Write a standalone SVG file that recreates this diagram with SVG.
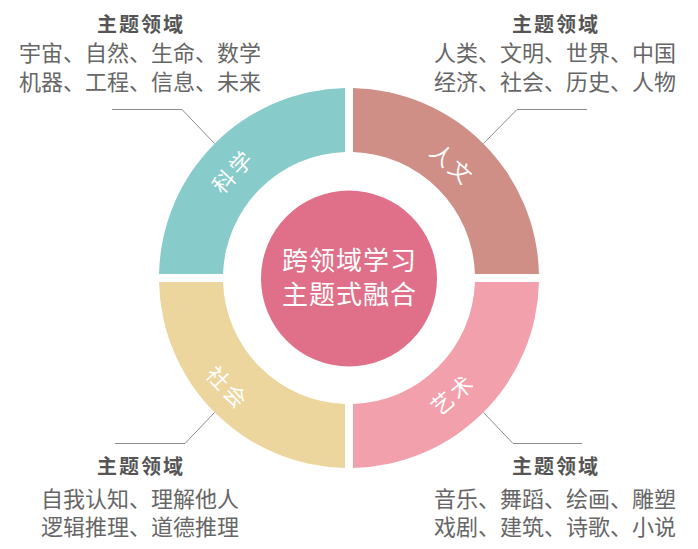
<svg xmlns="http://www.w3.org/2000/svg" width="698" height="549" viewBox="0 0 698 549">
<style>
.title{font-family:"Noto Sans CJK SC","Noto Sans",sans-serif;font-size:20px;font-weight:bold;fill:#555555;text-anchor:middle;letter-spacing:2px}
.body{font-family:"Noto Sans CJK SC","Noto Sans",sans-serif;font-size:22px;fill:#666666;text-anchor:middle}
.seg{font-family:"Noto Sans CJK SC","Noto Sans",sans-serif;font-size:22px;fill:#ffffff;text-anchor:middle;letter-spacing:3px}
.center{font-family:"Noto Sans CJK SC","Noto Sans",sans-serif;font-size:26px;fill:#ffffff;text-anchor:middle;letter-spacing:1px}
.conn{fill:none;stroke:#8c8c8c;stroke-width:1}
</style>
<rect width="698" height="549" fill="#ffffff"/>
<g id="connectors">
<polyline class="conn" points="112,109.5 182,109.5 214.6,143.6"/>
<polyline class="conn" points="587,109.5 517,109.5 483.4,143.6"/>
<polyline class="conn" points="115,443.5 185,443.5 214.6,412.4"/>
<polyline class="conn" points="582,443.5 513,443.5 483.4,412.4"/>
</g>
<g id="science">
<path d="M345,88.04 A190,190 0 0 0 159.04,274 L223.06,274 A126,126 0 0 1 345,152.06 Z" fill="#87CBCA"/>
<g transform="translate(232.5,172.5) rotate(-47)"><text class="seg" x="1.5" y="8">科学</text></g>
</g>
<g id="humanities">
<path d="M353,88.04 A190,190 0 0 1 538.96,274 L474.94,274 A126,126 0 0 0 353,152.06 Z" fill="#CF8F86"/>
<g transform="translate(451,163.5) rotate(42)"><text class="seg" x="1.5" y="8">人文</text></g>
</g>
<g id="society">
<path d="M159.04,282 A190,190 0 0 0 345,467.96 L345,403.94 A126,126 0 0 1 223.06,282 Z" fill="#ECD69E"/>
<g transform="translate(226.5,387) rotate(47)"><text class="seg" x="1.5" y="8">社会</text></g>
</g>
<g id="art">
<path d="M353,467.96 A190,190 0 0 0 538.96,282 L474.94,282 A126,126 0 0 1 353,403.94 Z" fill="#F3A0AD"/>
<g transform="translate(452,395.5) rotate(-40)"><text class="seg" x="1.5" y="8">艺术</text></g>
</g>
<g id="center">
<circle cx="349" cy="278.5" r="88" fill="#E07089"/>
<text class="center" x="349.5" y="270">跨领域学习</text>
<text class="center" x="349.5" y="304">主题式融合</text>
</g>
<g id="science-topics">
<text class="title" x="141" y="32">主题领域</text>
<text class="body" x="140" y="61">宇宙、自然、生命、数学</text>
<text class="body" x="140" y="90">机器、工程、信息、未来</text>
</g>
<g id="humanities-topics">
<text class="title" x="556" y="32">主题领域</text>
<text class="body" x="555" y="61">人类、文明、世界、中国</text>
<text class="body" x="555" y="90">经济、社会、历史、人物</text>
</g>
<g id="society-topics">
<text class="title" x="141" y="474">主题领域</text>
<text class="body" x="140" y="507">自我认知、理解他人</text>
<text class="body" x="140" y="535">逻辑推理、道德推理</text>
</g>
<g id="art-topics">
<text class="title" x="556" y="474">主题领域</text>
<text class="body" x="555" y="507">音乐、舞蹈、绘画、雕塑</text>
<text class="body" x="555" y="535">戏剧、建筑、诗歌、小说</text>
</g>
</svg>
